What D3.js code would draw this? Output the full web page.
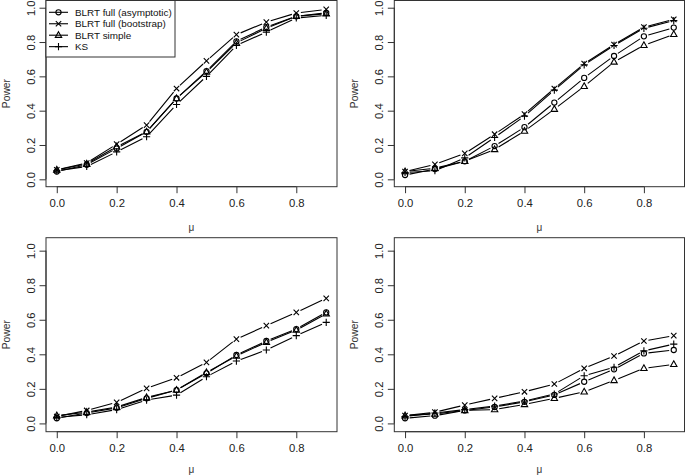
<!DOCTYPE html>
<html><head><meta charset="utf-8">
<script src="https://cdn.jsdelivr.net/npm/d3@7"></script>
<style>html,body{margin:0;padding:0;background:#fff;} svg{display:block;font-family:"Liberation Sans",Arial,Helvetica,sans-serif;}</style>
</head><body>
<script>
// ---- data ----
const mu = [0, 0.1, 0.2, 0.3, 0.4, 0.5, 0.6, 0.7, 0.8, 0.9];
const seriesNames = ["BLRT full (asymptotic)", "BLRT full (bootstrap)", "BLRT simple", "KS"];
const seriesShapes = ["circle", "cross", "triangle", "plus"];
const xTicks = [0, 0.2, 0.4, 0.6, 0.8];
const yTicks = [0, 0.2, 0.4, 0.6, 0.8, 1.0];

// panel 1 (top-left)
const p1Asym   = [0.045, 0.085, 0.180, 0.277, 0.471, 0.631, 0.804, 0.887, 0.950, 0.970];
const p1Boot   = [0.055, 0.095, 0.205, 0.316, 0.529, 0.690, 0.843, 0.916, 0.969, 0.990];
const p1Simple = [0.055, 0.090, 0.190, 0.277, 0.471, 0.625, 0.795, 0.880, 0.950, 0.965];
const p1KS     = [0.050, 0.075, 0.160, 0.248, 0.436, 0.600, 0.780, 0.858, 0.940, 0.955];
// panel 2 (top-right)
const p2Asym   = [0.025, 0.060, 0.105, 0.194, 0.304, 0.447, 0.591, 0.719, 0.833, 0.884];
const p2Boot   = [0.045, 0.087, 0.151, 0.263, 0.380, 0.529, 0.674, 0.785, 0.887, 0.932];
const p2Simple = [0.045, 0.065, 0.105, 0.174, 0.281, 0.409, 0.542, 0.684, 0.781, 0.845];
const p2KS     = [0.040, 0.050, 0.125, 0.244, 0.368, 0.520, 0.667, 0.780, 0.880, 0.925];
// panel 3 (bottom-left)
const p3Asym   = [0.030, 0.060, 0.090, 0.145, 0.193, 0.290, 0.396, 0.477, 0.546, 0.643];
const p3Boot   = [0.040, 0.075, 0.122, 0.203, 0.264, 0.353, 0.488, 0.566, 0.643, 0.724];
const p3Simple = [0.045, 0.065, 0.095, 0.150, 0.193, 0.295, 0.390, 0.470, 0.540, 0.635];
const p3KS     = [0.035, 0.050, 0.080, 0.135, 0.164, 0.270, 0.361, 0.425, 0.508, 0.585];
// panel 4 (bottom-right)
const p4Asym   = [0.030, 0.045, 0.075, 0.095, 0.125, 0.165, 0.241, 0.313, 0.405, 0.425];
const p4Boot   = [0.045, 0.065, 0.106, 0.145, 0.183, 0.228, 0.319, 0.390, 0.477, 0.508];
const p4Simple = [0.045, 0.055, 0.075, 0.080, 0.110, 0.145, 0.183, 0.249, 0.319, 0.342];
const p4KS     = [0.040, 0.060, 0.080, 0.100, 0.130, 0.170, 0.276, 0.325, 0.420, 0.459];

const panelData = [
  [p1Asym, p1Boot, p1Simple, p1KS],
  [p2Asym, p2Boot, p2Simple, p2KS],
  [p3Asym, p3Boot, p3Simple, p3KS],
  [p4Asym, p4Boot, p4Simple, p4KS]
];

// ---- layout ----
const W = 685, H = 475;
const cols = [{l: 46, r: 337}, {l: 394.3, r: 684.5}];
const rows = [{t: 0.5, b: 186.7, dom: [-0.043, 1.042], mu: 41}, {t: 237.7, b: 431.7, dom: [-0.048, 1.075], mu: 37.5}];
const xDom = [-0.036, 0.936];

const svg = d3.select("body").append("svg").attr("width", W).attr("height", H);

function drawMarker(g, shape, cx, cy) {
  const s = g.append("g").attr("transform", `translate(${cx},${cy})`)
    .attr("fill", "none").attr("stroke", "#000").attr("stroke-width", 1.1);
  if (shape === "circle") s.append("circle").attr("r", 2.6);
  else if (shape === "cross") s.append("path").attr("d", "M-2.7,-2.7L2.7,2.7M-2.7,2.7L2.7,-2.7");
  else if (shape === "triangle") s.append("path").attr("d", "M0,-3.5L3.2,2.2L-3.2,2.2Z");
  else if (shape === "plus") s.append("path").attr("d", "M-3.6,0L3.6,0M0,-3.6L0,3.6");
}

const gap = 4.6;
panelData.forEach((series, pi) => {
  const col = cols[pi % 2], row = rows[Math.floor(pi / 2)];
  const x = d3.scaleLinear().domain(xDom).range([col.l, col.r]);
  const y = d3.scaleLinear().domain(row.dom).range([row.b, row.t]);
  const g = svg.append("g");

  // data lines (type = "b": segments with gaps)
  series.forEach((vals, si) => {
    const pts = mu.map((m, i) => [x(m), y(vals[i])]);
    const segs = [];
    for (let i = 0; i < pts.length - 1; i++) {
      const [x0, y0] = pts[i], [x1, y1] = pts[i + 1];
      const dx = x1 - x0, dy = y1 - y0, len = Math.hypot(dx, dy);
      if (len <= 2 * gap) continue;
      const ux = dx / len, uy = dy / len;
      segs.push(`M${x0 + ux * gap},${y0 + uy * gap}L${x1 - ux * gap},${y1 - uy * gap}`);
    }
    g.append("path").attr("d", segs.join("")).attr("fill", "none")
      .attr("stroke", "#000").attr("stroke-width", 1.1);
    pts.forEach(p => drawMarker(g, seriesShapes[si], p[0], p[1]));
  });

  // box
  g.append("rect").attr("x", col.l).attr("y", row.t).attr("width", col.r - col.l)
    .attr("height", row.b - row.t).attr("fill", "none").attr("stroke", "#333").attr("stroke-width", 1);

  // x axis
  const xa = g.append("g").attr("transform", `translate(0,${row.b})`)
    .call(d3.axisBottom(x).tickValues(xTicks).tickFormat(d3.format(".1f")).tickSize(6.5).tickPadding(3));
  xa.select(".domain").attr("d", `M${x(xTicks[0])},0H${x(xTicks[xTicks.length - 1])}`).attr("stroke", "#333");
  xa.selectAll(".tick line").attr("stroke", "#333");
  xa.selectAll(".tick text").attr("font-size", 11.3).attr("fill", "#222")
    .attr("font-family", "Liberation Sans, Arial, sans-serif").attr("dy", null).attr("y", 16).attr("dominant-baseline", "central");

  // y axis
  const ya = g.append("g").attr("transform", `translate(${col.l},0)`)
    .call(d3.axisLeft(y).tickValues(yTicks).tickFormat(d3.format(".1f")).tickSize(6.5));
  ya.select(".domain").attr("d", `M0,${y(yTicks[0])}V${y(yTicks[yTicks.length - 1])}`).attr("stroke", "#333");
  ya.selectAll(".tick line").attr("stroke", "#333");
  ya.selectAll(".tick text").attr("font-size", 11.3).attr("fill", "#222")
    .attr("font-family", "Liberation Sans, Arial, sans-serif")
    .attr("x", null).attr("dy", null)
    .attr("text-anchor", "middle").attr("dominant-baseline", "central")
    .attr("transform", "translate(-15,0) rotate(-90)");

  // axis titles
  g.append("text").attr("x", (col.l + col.r) / 2).attr("y", row.b + row.mu)
    .attr("text-anchor", "middle").attr("dominant-baseline", "central")
    .attr("font-size", 10).attr("fill", "#333").text("μ");
  g.append("text").attr("transform", `translate(${col.l - 39.5},${(row.t + row.b) / 2}) rotate(-90)`)
    .attr("text-anchor", "middle").attr("dominant-baseline", "central")
    .attr("font-size", 10.3).attr("fill", "#333").text("Power");

  // legend (first panel only)
  if (pi === 0) {
    const lg = svg.append("g");
    lg.append("rect").attr("x", col.l).attr("y", row.t).attr("width", 129).attr("height", 56.5)
      .attr("fill", "#fff").attr("stroke", "#333").attr("stroke-width", 1);
    seriesNames.forEach((name, si) => {
      const ly = 12.3 + si * 11.45;
      lg.append("line").attr("x1", col.l + 3).attr("x2", col.l + 22).attr("y1", ly).attr("y2", ly)
        .attr("stroke", "#000").attr("stroke-width", 1.1);
      drawMarker(lg, seriesShapes[si], col.l + 12.5, ly);
      lg.append("text").attr("x", col.l + 29).attr("y", ly).attr("dominant-baseline", "central")
        .attr("font-size", 9.9).attr("fill", "#111").text(name);
    });
  }
});
</script>
</body></html>
